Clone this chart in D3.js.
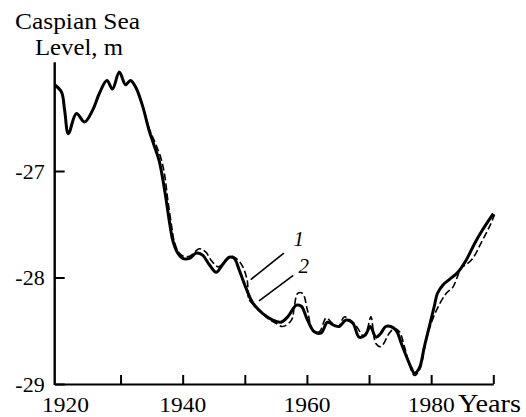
<!DOCTYPE html>
<html>
<head>
<meta charset="utf-8">
<script src="https://cdn.jsdelivr.net/npm/d3@7"></script>
<style>
body { margin: 0; background: #fff; }
text { font-family: "Liberation Serif", "Times New Roman", serif; fill: #000; }
</style>
</head>
<body>
<div id="chart"></div>
<script>
// Caspian Sea level, curve 1 (solid) and curve 2 (dashed)
var years1 = [1919.4, 1920.5, 1921.0, 1921.6, 1922.9, 1924.2, 1925.5, 1926.6, 1927.8, 1928.7,
	1929.8, 1930.8, 1931.6, 1932.5, 1933.6, 1934.6, 1935.4, 1936.2, 1937.1, 1937.9,
	1938.4, 1939.2, 1940.0, 1941.1, 1942.2, 1943.2, 1944.3, 1945.4, 1946.4, 1947.5,
	1948.3, 1949.1, 1950.2, 1951.3, 1952.9, 1954.5, 1955.8, 1956.9, 1958.3, 1959.1,
	1960.1, 1961.2, 1962.3, 1963.3, 1964.4, 1965.2, 1966.3, 1967.4, 1968.4, 1969.4,
	1970.2, 1971.1, 1971.8, 1972.7, 1973.5, 1974.4, 1975.2, 1976.0, 1976.8, 1977.3,
	1978.1, 1978.9, 1979.7, 1980.5, 1981.0, 1981.9, 1982.9, 1984.3, 1985.6, 1987.0,
	1988.3, 1990.0];
var level1 = [-26.19, -26.26, -26.43, -26.65, -26.46, -26.54, -26.43, -26.27, -26.15, -26.23,
	-26.07, -26.19, -26.15, -26.22, -26.40, -26.62, -26.76, -26.90, -27.18, -27.49,
	-27.65, -27.77, -27.82, -27.82, -27.77, -27.79, -27.88, -27.95, -27.88, -27.81,
	-27.82, -27.93, -28.10, -28.24, -28.34, -28.40, -28.42, -28.37, -28.26, -28.27,
	-28.40, -28.51, -28.52, -28.42, -28.45, -28.46, -28.40, -28.43, -28.56, -28.54,
	-28.46, -28.56, -28.53, -28.46, -28.46, -28.50, -28.62, -28.74, -28.85, -28.90,
	-28.85, -28.65, -28.46, -28.27, -28.15, -28.07, -28.02, -27.95, -27.84, -27.68,
	-27.55, -27.40];

var years2 = [1933.6, 1934.6, 1935.6, 1936.5, 1937.1, 1937.6, 1938.2, 1938.6, 1939.3, 1940.1,
	1941.1, 1942.7, 1943.7, 1944.6, 1945.7, 1946.7, 1947.8, 1948.6, 1949.6, 1950.4,
	1950.7, 1951.8, 1953.4, 1955.0, 1956.1, 1957.5, 1958.0, 1958.5, 1959.3, 1960.1,
	1960.9, 1962.0, 1963.1, 1964.1, 1965.1, 1966.0, 1967.2, 1968.1, 1969.1, 1969.7,
	1970.3, 1971.1, 1971.9, 1973.3, 1974.1, 1974.9, 1975.7, 1976.5, 1977.3, 1978.1,
	1979.2, 1980.0, 1981.0, 1982.4, 1983.5, 1984.3, 1984.8, 1985.6, 1986.7, 1988.0,
	1989.4, 1990.2];
var level2 = [-26.40, -26.60, -26.74, -26.88, -27.04, -27.27, -27.51, -27.65, -27.76, -27.80,
	-27.80, -27.73, -27.76, -27.84, -27.90, -27.86, -27.80, -27.82, -27.89, -28.03,
	-28.21, -28.27, -28.37, -28.43, -28.46, -28.40, -28.26, -28.15, -28.15, -28.31,
	-28.49, -28.51, -28.38, -28.43, -28.46, -28.37, -28.41, -28.47, -28.55, -28.49,
	-28.37, -28.62, -28.65, -28.52, -28.48, -28.51, -28.65, -28.82, -28.92, -28.87,
	-28.59, -28.43, -28.29, -28.15, -28.09, -27.98, -27.91, -27.88, -27.82, -27.68,
	-27.52, -27.41];

var xTicks = [1930, 1940, 1950, 1960, 1970, 1980, 1990];
var xLabels = [1920, 1940, 1960, 1980];
var yTicks = [-27, -28, -29];

// curve labels and their leader lines, in data units
var curveNames = ["1", "2"];
var nameAt = [[1958.7, -27.70], [1959.5, -27.96]];
var leaders = [[[1956.3, -27.77], [1950.95, -28.02]], [[1957.8, -27.98], [1952.3, -28.22]]];

var width = 526, height = 417;

var svg = d3.select("#chart")
	.append("svg")
	.attr("width", width)
	.attr("height", height);

var x = d3.scaleLinear().domain([1919.4, 1990]).range([54.7, 493.3]);
var y = d3.scaleLinear().domain([-29, -26]).range([384, 64.5]);

// axes
var xAxis = svg.append("g")
	.attr("transform", "translate(0," + y(-29) + ")")
	.call(d3.axisBottom(x).tickValues(xTicks).tickSize(-9).tickSizeOuter(0).tickFormat(""));
xAxis.selectAll("line").attr("stroke-width", 2);
xAxis.select(".domain").attr("stroke-width", 2.2);

var yAxis = svg.append("g")
	.attr("transform", "translate(" + x(1919.4) + ",0)")
	.call(d3.axisLeft(y).tickValues(yTicks).tickSize(-10).tickSizeOuter(0).tickPadding(10)
		.tickFormat(function(d) { return "-" + Math.abs(d); }));
yAxis.select(".domain").remove();
yAxis.selectAll("line").attr("stroke-width", 2);
yAxis.selectAll("text")
	.attr("font-size", 22)
	.style("font-family", "'Liberation Serif', serif");

svg.append("line")
	.attr("x1", x(1919.4)).attr("x2", x(1919.4))
	.attr("y1", y(-29) + 1).attr("y2", y(-25.98))
	.attr("stroke", "#000")
	.attr("stroke-width", 2.4);

// x labels
svg.selectAll(".xlab")
	.data(xLabels)
	.enter()
	.append("text")
	.attr("class", "xlab")
	.attr("x", function(d) { return d === 1920 ? x(d) + 7 : x(d); })
	.attr("y", 412)
	.attr("text-anchor", "middle")
	.attr("font-size", 22)
	.attr("textLength", 47)
	.attr("lengthAdjust", "spacingAndGlyphs")
	.text(function(d) { return d; });

svg.append("text")
	.attr("x", 458)
	.attr("y", 412)
	.attr("font-size", 25)
	.attr("textLength", 63)
	.attr("lengthAdjust", "spacingAndGlyphs")
	.text("Years");

// y title
svg.append("text")
	.attr("x", 15)
	.attr("y", 29)
	.attr("font-size", 24)
	.attr("textLength", 125)
	.attr("lengthAdjust", "spacingAndGlyphs")
	.text("Caspian Sea");
svg.append("text")
	.attr("x", 35)
	.attr("y", 55)
	.attr("font-size", 24)
	.attr("textLength", 88)
	.attr("lengthAdjust", "spacingAndGlyphs")
	.text("Level, m");

// curves
var line = d3.line()
	.x(function(d) { return x(d[0]); })
	.y(function(d) { return y(d[1]); })
	.curve(d3.curveCatmullRom.alpha(0.5));

svg.append("path")
	.datum(d3.zip(years2, level2))
	.attr("d", line)
	.attr("fill", "none")
	.attr("stroke", "#000")
	.attr("stroke-width", 1.6)
	.attr("stroke-dasharray", "7,3");

svg.append("path")
	.datum(d3.zip(years1, level1))
	.attr("d", line)
	.attr("fill", "none")
	.attr("stroke", "#000")
	.attr("stroke-width", 3)
	.attr("stroke-linejoin", "round");

// curve names
svg.selectAll(".leader")
	.data(leaders)
	.enter()
	.append("line")
	.attr("class", "leader")
	.attr("x1", function(d) { return x(d[0][0]); })
	.attr("y1", function(d) { return y(d[0][1]); })
	.attr("x2", function(d) { return x(d[1][0]); })
	.attr("y2", function(d) { return y(d[1][1]); })
	.attr("stroke", "#000")
	.attr("stroke-width", 1.6);

svg.selectAll(".cname")
	.data(curveNames)
	.enter()
	.append("text")
	.attr("class", "cname")
	.attr("x", function(d, i) { return x(nameAt[i][0]); })
	.attr("y", function(d, i) { return y(nameAt[i][1]); })
	.attr("text-anchor", "middle")
	.attr("font-size", 21)
	.attr("font-style", "italic")
	.text(function(d) { return d; });
</script>
</body>
</html>
